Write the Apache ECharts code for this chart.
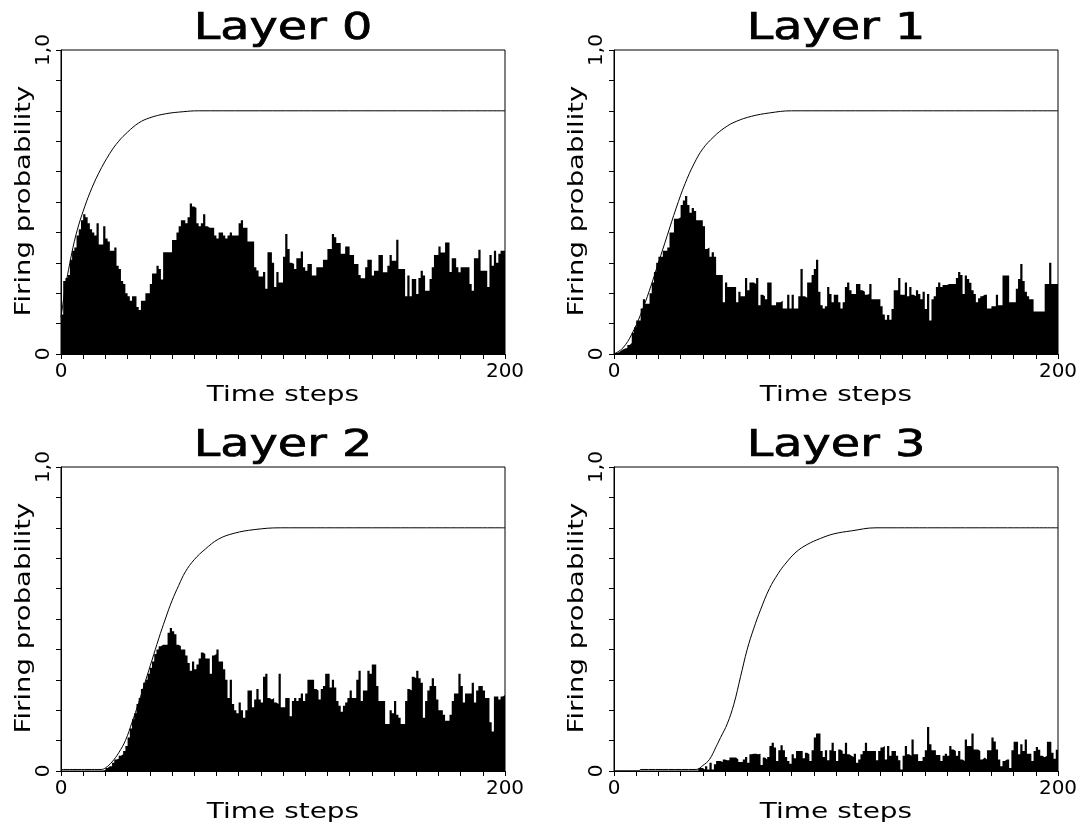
<!DOCTYPE html>
<html>
<head>
    <meta charset="utf-8">
    <title>Firing probability per layer</title>
    <script src="https://cdn.jsdelivr.net/npm/echarts@6/dist/echarts.min.js"></script>
    <style>
        html, body { margin: 0; padding: 0; background: #fff; }
    </style>
</head>
<body>
    <div id="main" style="width: 1086px;height:829px;"></div>
    <script type="text/javascript">
        // panel titles and axis texts
        var titles = ['Layer 0', 'Layer 1', 'Layer 2', 'Layer 3'];
        var xName = 'Time steps';
        var yName = 'Firing probability';
        var xTickValues = [0, 200];
        var xTickLabels = ['0', '200'];
        var yTickValues = [0, 1];
        var yTickLabels = ['0', '1,0'];

        // histogram: one value per time step (0..199)
        var layer0 = [
            0.13, 0.24, 0.25, 0.26, 0.31, 0.34, 0.35, 0.39, 0.41, 0.44,
            0.46, 0.45, 0.43, 0.41, 0.40, 0.39, 0.43, 0.36, 0.36, 0.42,
            0.38, 0.37, 0.34, 0.34, 0.35, 0.29, 0.28, 0.24, 0.23, 0.20,
            0.19, 0.175, 0.19, 0.19, 0.155, 0.145, 0.175, 0.175, 0.20, 0.20,
            0.23, 0.265, 0.265, 0.29, 0.28, 0.245, 0.335, 0.335, 0.335, 0.335,
            0.375, 0.375, 0.40, 0.42, 0.44, 0.44, 0.43, 0.45, 0.495, 0.485,
            0.48, 0.43, 0.42, 0.43, 0.46, 0.42, 0.415, 0.415, 0.415, 0.39,
            0.38, 0.40, 0.40, 0.39, 0.38, 0.39, 0.40, 0.39, 0.39, 0.39,
            0.43, 0.44, 0.415, 0.415, 0.37, 0.37, 0.37, 0.285, 0.275, 0.255,
            0.255, 0.27, 0.215, 0.335, 0.335, 0.30, 0.22, 0.27, 0.235, 0.235,
            0.32, 0.395, 0.345, 0.30, 0.296, 0.28, 0.315, 0.315, 0.337, 0.285,
            0.274, 0.296, 0.296, 0.258, 0.258, 0.285, 0.285, 0.285, 0.31, 0.31,
            0.345, 0.345, 0.395, 0.384, 0.365, 0.365, 0.33, 0.33, 0.354, 0.354,
            0.326, 0.326, 0.296, 0.296, 0.26, 0.249, 0.249, 0.285, 0.31, 0.31,
            0.258, 0.274, 0.274, 0.326, 0.326, 0.269, 0.269, 0.29, 0.326, 0.307,
            0.307, 0.376, 0.28, 0.28, 0.28, 0.19, 0.258, 0.19, 0.247, 0.247,
            0.197, 0.25, 0.274, 0.258, 0.208, 0.208, 0.247, 0.285, 0.326, 0.326,
            0.354, 0.334, 0.334, 0.367, 0.367, 0.27, 0.315, 0.315, 0.285, 0.269,
            0.285, 0.285, 0.285, 0.285, 0.23, 0.208, 0.315, 0.315, 0.343, 0.274,
            0.274, 0.274, 0.22, 0.326, 0.29, 0.34, 0.30, 0.33, 0.34, 0.34
        ];
        var layer1 = [
            0.003, 0.005, 0.01, 0.015, 0.018, 0.02, 0.03, 0.036, 0.07, 0.088,
            0.11, 0.11, 0.15, 0.18, 0.165, 0.165, 0.20, 0.235, 0.27, 0.30,
            0.32, 0.32, 0.34, 0.34, 0.35, 0.40, 0.40, 0.445, 0.445, 0.45,
            0.49, 0.505, 0.52, 0.49, 0.465, 0.48, 0.47, 0.44, 0.44, 0.44,
            0.42, 0.345, 0.35, 0.32, 0.335, 0.32, 0.26, 0.26, 0.26, 0.17,
            0.235, 0.22, 0.22, 0.22, 0.22, 0.17, 0.205, 0.19, 0.19, 0.25,
            0.21, 0.235, 0.235, 0.23, 0.25, 0.16, 0.195, 0.19, 0.18, 0.235,
            0.235, 0.16, 0.16, 0.17, 0.17, 0.175, 0.15, 0.15, 0.195, 0.15,
            0.195, 0.15, 0.15, 0.19, 0.28, 0.19, 0.185, 0.235, 0.235, 0.26,
            0.28, 0.31, 0.205, 0.16, 0.15, 0.157, 0.22, 0.197, 0.17, 0.195,
            0.195, 0.17, 0.15, 0.17, 0.22, 0.235, 0.21, 0.197, 0.197, 0.23,
            0.23, 0.21, 0.205, 0.195, 0.197, 0.23, 0.18, 0.18, 0.18, 0.18,
            0.157, 0.13, 0.113, 0.128, 0.113, 0.148, 0.21, 0.21, 0.25, 0.195,
            0.195, 0.235, 0.19, 0.22, 0.195, 0.19, 0.21, 0.197, 0.18, 0.205,
            0.148, 0.197, 0.11, 0.18, 0.19, 0.22, 0.235, 0.22, 0.227, 0.227,
            0.23, 0.23, 0.23, 0.23, 0.25, 0.27, 0.26, 0.197, 0.258, 0.247,
            0.234, 0.21, 0.197, 0.17, 0.183, 0.19, 0.195, 0.195, 0.15, 0.15,
            0.157, 0.157, 0.195, 0.16, 0.16, 0.258, 0.258, 0.258, 0.17, 0.17,
            0.17, 0.215, 0.247, 0.296, 0.24, 0.205, 0.19, 0.18, 0.18, 0.14,
            0.14, 0.14, 0.14, 0.14, 0.23, 0.23, 0.30, 0.23, 0.23, 0.23
        ];
        var layer2 = [
            0, 0, 0, 0, 0, 0, 0, 0, 0, 0,
            0, 0, 0, 0, 0, 0, 0, 0, 0, 0.003,
            0.01, 0.016, 0.016, 0.027, 0.038, 0.04, 0.05, 0.055, 0.066, 0.082,
            0.11, 0.14, 0.17, 0.19, 0.22, 0.24, 0.27, 0.29, 0.30, 0.32,
            0.34, 0.36, 0.385, 0.40, 0.41, 0.415, 0.415, 0.415, 0.455, 0.47,
            0.46, 0.45, 0.415, 0.41, 0.40, 0.40, 0.38, 0.355, 0.33, 0.36,
            0.335, 0.35, 0.37, 0.39, 0.385, 0.37, 0.37, 0.32, 0.38, 0.385,
            0.40, 0.36, 0.36, 0.335, 0.30, 0.24, 0.30, 0.22, 0.20, 0.19,
            0.225, 0.20, 0.175, 0.20, 0.265, 0.265, 0.21, 0.235, 0.27, 0.235,
            0.225, 0.31, 0.32, 0.24, 0.235, 0.24, 0.225, 0.22, 0.32, 0.21,
            0.21, 0.24, 0.24, 0.18, 0.23, 0.24, 0.23, 0.24, 0.255, 0.23,
            0.255, 0.30, 0.30, 0.30, 0.27, 0.265, 0.235, 0.27, 0.28, 0.32,
            0.32, 0.275, 0.30, 0.275, 0.23, 0.215, 0.195, 0.215, 0.225, 0.24,
            0.265, 0.24, 0.24, 0.30, 0.33, 0.23, 0.265, 0.265, 0.33, 0.32,
            0.35, 0.35, 0.28, 0.23, 0.23, 0.23, 0.155, 0.155, 0.20, 0.19,
            0.23, 0.185, 0.175, 0.155, 0.155, 0.23, 0.27, 0.265, 0.31, 0.305,
            0.33, 0.305, 0.29, 0.175, 0.23, 0.265, 0.28, 0.305, 0.28, 0.235,
            0.20, 0.20, 0.185, 0.165, 0.165, 0.185, 0.23, 0.255, 0.255, 0.32,
            0.28, 0.225, 0.255, 0.255, 0.255, 0.29, 0.225, 0.265, 0.28, 0.28,
            0.265, 0.24, 0.24, 0.16, 0.13, 0.245, 0.245, 0.235, 0.245, 0.25
        ];
        var layer3 = [
            0, 0, 0, 0, 0, 0, 0, 0, 0, 0,
            0, 0, 0, 0, 0, 0, 0, 0, 0, 0,
            0, 0, 0, 0, 0, 0, 0, 0, 0, 0,
            0, 0, 0, 0, 0, 0, 0, 0, 0.01, 0.01,
            0.005, 0.016, 0.005, 0.027, 0.005, 0.022, 0.033, 0.033, 0.03, 0.038,
            0.035, 0.035, 0.044, 0.044, 0.044, 0.038, 0.03, 0.03, 0.038, 0.046,
            0.027, 0.055, 0.057, 0.057, 0.055, 0.057, 0.02, 0.044, 0.038, 0.046,
            0.082, 0.093, 0.077, 0.033, 0.068, 0.085, 0.068, 0.046, 0.033, 0.024,
            0.055, 0.042, 0.066, 0.066, 0.066, 0.042, 0.06, 0.055, 0.033, 0.068,
            0.11, 0.123, 0.123, 0.066, 0.046, 0.068, 0.035, 0.068, 0.093, 0.066,
            0.033, 0.071, 0.066, 0.057, 0.093, 0.055, 0.05, 0.046, 0.057, 0.027,
            0.038, 0.055, 0.066, 0.093, 0.066, 0.066, 0.066, 0.066, 0.035, 0.066,
            0.077, 0.082, 0.038, 0.082, 0.05, 0.066, 0.066, 0.05, 0.035, 0.005,
            0.05, 0.082, 0.055, 0.05, 0.104, 0.055, 0.055, 0.033, 0.033, 0.046,
            0.068, 0.145, 0.088, 0.068, 0.068, 0.053, 0.053, 0.033, 0.05, 0.057,
            0.05, 0.082, 0.071, 0.066, 0.05, 0.066, 0.038, 0.033, 0.104, 0.082,
            0.082, 0.123, 0.071, 0.071, 0.066, 0.038, 0.044, 0.038, 0.068, 0.068,
            0.11, 0.097, 0.071, 0.038, 0.016, 0.033, 0.038, 0.038, 0.01, 0.068,
            0.096, 0.096, 0.055, 0.088, 0.066, 0.104, 0.057, 0.057, 0.033, 0.066,
            0.079, 0.07, 0.05, 0.045, 0.05, 0.096, 0.096, 0.06, 0.04, 0.07
        ];

        // smooth curve: time step / probability
        var curve0Steps = [0, 2, 4, 6, 8, 10, 13, 17, 22, 26, 30, 35, 40, 47, 55, 62, 200];
        var curve0Values = [0.12, 0.22, 0.30, 0.37, 0.425, 0.47, 0.53, 0.595, 0.66, 0.70, 0.73, 0.76, 0.777, 0.79, 0.797, 0.80, 0.80];
        var curve1Steps = [0, 4, 8, 12, 16, 20, 24, 28, 32, 36, 40, 45, 50, 55, 62, 70, 80, 200];
        var curve1Values = [0, 0.02, 0.065, 0.13, 0.21, 0.30, 0.39, 0.48, 0.56, 0.625, 0.675, 0.715, 0.745, 0.765, 0.782, 0.793, 0.80, 0.80];
        var curve2Steps = [0, 18, 20, 23, 26, 29, 32, 35, 38, 41, 44, 47, 50, 53, 56, 60, 65, 71, 78, 87, 99, 200];
        var curve2Values = [0.005, 0.005, 0.01, 0.03, 0.06, 0.10, 0.16, 0.225, 0.295, 0.365, 0.435, 0.50, 0.56, 0.61, 0.655, 0.695, 0.73, 0.763, 0.782, 0.794, 0.80, 0.80];
        var curve3Steps = [0, 11, 12, 37, 40, 43, 46, 48, 51, 54, 57, 60, 63, 66, 70, 74, 77, 82, 87, 93, 99, 107, 118, 200];
        var curve3Values = [0, 0, 0.005, 0.005, 0.018, 0.038, 0.08, 0.11, 0.155, 0.22, 0.31, 0.40, 0.47, 0.53, 0.60, 0.65, 0.68, 0.72, 0.745, 0.765, 0.78, 0.79, 0.80, 0.80];

        var hists = [layer0, layer1, layer2, layer3];
        var curveSteps = [curve0Steps, curve1Steps, curve2Steps, curve3Steps];
        var curveValues = [curve0Values, curve1Values, curve2Values, curve3Values];

        // panel placement (px)
        var panelPos = [[61, 50], [614, 50], [61, 467], [614, 467]];
        var panelW = 444, panelH = 304;
        var FONT = '"DejaVu Sans", sans-serif';

        function xLabel(v) {
            for (var i = 0; i < xTickValues.length; i++) {
                if (Math.abs(v - xTickValues[i]) < 1e-6) return xTickLabels[i];
            }
            return '';
        }
        function yLabel(v) {
            for (var i = 0; i < yTickValues.length; i++) {
                if (Math.abs(v - yTickValues[i]) < 1e-6) return yTickLabels[i];
            }
            return '';
        }

        var myChart = echarts.init(document.getElementById('main'));

        var option = {
            backgroundColor: '#ffffff',
            animation: false,
            grid: [],
            xAxis: [],
            yAxis: [],
            series: [],
            graphic: []
        };

        for (var k = 0; k < 4; k++) {
            var px = panelPos[k][0], py = panelPos[k][1];
            option.grid.push({
                left: px, top: py, width: panelW, height: panelH,
                show: true, borderColor: '#000', borderWidth: 1,
                backgroundColor: 'transparent'
            });
            option.xAxis.push({
                type: 'value', gridIndex: k, min: 0, max: 200, interval: 10,
                axisLine: {show: true, onZero: false, lineStyle: {color: '#000', width: 1}},
                axisTick: {show: true, length: 5, lineStyle: {color: '#000', width: 1}},
                splitLine: {show: false},
                axisLabel: {
                    margin: 8, color: '#000', fontFamily: FONT, fontSize: 20,
                    showMinLabel: true, showMaxLabel: true, formatter: xLabel
                }
            });
            option.yAxis.push({
                type: 'value', gridIndex: k, min: 0, max: 1, interval: 0.1,
                axisLine: {show: true, onZero: false, lineStyle: {color: '#000', width: 1}},
                axisTick: {show: true, length: 5, lineStyle: {color: '#000', width: 1}},
                splitLine: {show: false},
                axisLabel: {
                    margin: 7, rotate: 90, color: '#000', fontFamily: FONT, fontSize: 20,
                    showMinLabel: true, showMaxLabel: true, formatter: yLabel
                }
            });

            // histogram as a filled step line
            var h = hists[k];
            var histData = [];
            for (var i = 0; i < h.length; i++) histData.push([i, h[i]]);
            histData.push([h.length, h[h.length - 1]]);
            option.series.push({
                type: 'line', xAxisIndex: k, yAxisIndex: k,
                step: 'end', symbol: 'none', silent: true,
                lineStyle: {opacity: 0},
                areaStyle: {color: '#000', opacity: 1},
                data: histData
            });

            // smooth curve on top
            var cData = [];
            for (var j = 0; j < curveSteps[k].length; j++) cData.push([curveSteps[k][j], curveValues[k][j]]);
            option.series.push({
                type: 'line', xAxisIndex: k, yAxisIndex: k,
                smooth: 0.4, symbol: 'none', silent: true,
                lineStyle: {color: '#000', width: 1},
                data: cData
            });

            // titles and axis names
            option.graphic.push({
                type: 'text', silent: true,
                x: px + panelW / 2, y: py - 7.5 - 0.346 * 37, scaleX: 1.29,
                style: {
                    text: titles[k], font: '37px ' + FONT, fill: '#000',
                    stroke: '#000', lineWidth: 0.7,
                    align: 'center', verticalAlign: 'middle'
                }
            });
            option.graphic.push({
                type: 'text', silent: true,
                x: px + panelW / 2, y: py + panelH + 48.7 - 0.346 * 22, scaleX: 1.27,
                style: {text: xName, font: '22px ' + FONT, fill: '#000', align: 'center', verticalAlign: 'middle'}
            });
            option.graphic.push({
                type: 'text', silent: true,
                x: px - 29 - 0.346 * 22, y: py + panelH / 2 - 1,
                rotation: Math.PI / 2, scaleX: 1.25,
                style: {text: yName, font: '22px ' + FONT, fill: '#000', align: 'center', verticalAlign: 'middle'}
            });
        }

        myChart.setOption(option);
    </script>
</body>
</html>
